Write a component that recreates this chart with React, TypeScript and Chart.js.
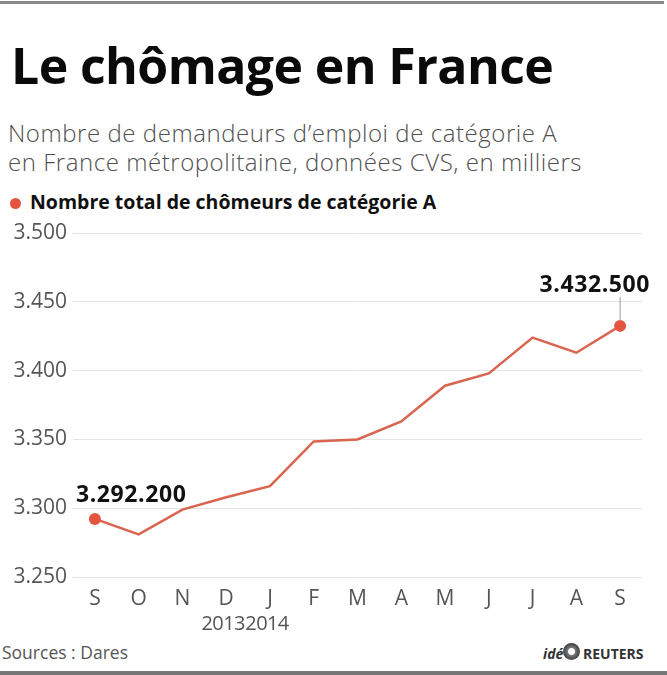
import React, { useEffect, useRef } from "react";
import { Chart, registerables } from "chart.js";

Chart.register(...registerables);

const monthLabels: string[] = ["S", "O", "N", "D", "J", "F", "M", "A", "M", "J", "J", "A", "S"];
const yearLabels: string[] = ["", "", "", "2013", "2014", "", "", "", "", "", "", "", ""];
const chomeurs: number[] = [3292.2, 3281, 3299, 3308, 3316, 3348.5, 3350, 3363, 3389, 3398, 3424, 3413, 3432.5];
const yTicks: number[] = [3250, 3300, 3350, 3400, 3450, 3500];

const FONT = "'Open Sans', 'Noto Sans', sans-serif";
const LINE_COLOR = "#d9644f";
const POINT_COLOR = "#e4553f";

function fmt(n: number): string {
  const s = Math.round(n).toString();
  return s.replace(/\B(?=(\d{3})+(?!\d))/g, ".");
}

const annotationPlugin = {
  id: "annots",
  afterDatasetsDraw(chart: any) {
    const meta = chart.getDatasetMeta(0);
    const ctx = chart.ctx as any;
    const data = chart.data.datasets[0].data as number[];
    const first = meta.data[0];
    const last = meta.data[data.length - 1];
    ctx.save();
    ctx.font = `bold 23px ${FONT}`;
    ctx.letterSpacing = "0.6px";
    ctx.fillStyle = "#111";
    ctx.textBaseline = "alphabetic";
    ctx.textAlign = "left";
    ctx.fillText(fmt(data[0] * 1000), first.x - 19, first.y - 17);
    ctx.strokeStyle = "#9a9a9a";
    ctx.lineWidth = 1;
    ctx.beginPath();
    ctx.moveTo(last.x, last.y - 29);
    ctx.lineTo(last.x, last.y - 5);
    ctx.stroke();
    ctx.textAlign = "right";
    ctx.fillText(fmt(data[data.length - 1] * 1000), last.x + 30, last.y - 34);
    ctx.restore();
  },
};

const yearPlugin = {
  id: "years",
  afterDraw(chart: any) {
    const xScale = chart.scales.x;
    const ctx = chart.ctx as any;
    ctx.save();
    ctx.font = `20px ${FONT}`;
    ctx.letterSpacing = "-0.6px";
    ctx.fillStyle = "#555";
    ctx.textAlign = "center";
    ctx.textBaseline = "alphabetic";
    yearLabels.forEach((y, i) => {
      if (!y) return;
      const x = xScale.getPixelForValue(i);
      ctx.fillText(y, x - 3, chart.chartArea.bottom + 53);
    });
    ctx.restore();
  },
};

export default function App() {
  const canvasRef = useRef<HTMLCanvasElement | null>(null);

  useEffect(() => {
    if (!canvasRef.current) return;
    const chart = new Chart(canvasRef.current, {
      type: "line",
      data: {
        labels: monthLabels,
        datasets: [
          {
            label: "Nombre total de chômeurs de catégorie A",
            data: chomeurs,
            borderColor: LINE_COLOR,
            borderWidth: 2.5,
            tension: 0,
            pointRadius: chomeurs.map((_, i) => (i === 0 || i === chomeurs.length - 1 ? 6 : 0)),
            pointBackgroundColor: POINT_COLOR,
            pointBorderWidth: 0,
            fill: false,
          },
        ],
      },
      options: {
        responsive: false,
        animation: false,
        layout: { padding: { top: 20, right: 25, left: 0, bottom: 0 } },
        plugins: {
          legend: { display: false },
          tooltip: { enabled: false },
        },
        scales: {
          x: {
            type: "category",
            offset: true,
            grid: { display: false, drawTicks: false },
            border: { display: false },
            ticks: {
              color: "#555",
              font: { family: FONT, size: 21 },
              padding: 9,
              maxRotation: 0,
              autoSkip: false,
            },
            afterFit: (scale: any) => {
              scale.height = 63;
            },
          },
          y: {
            min: 3250,
            max: 3500,
            afterBuildTicks: (scale: any) => {
              scale.ticks = yTicks.map((v) => ({ value: v }));
            },
            grid: { color: "#e4e4e4", lineWidth: 1, drawTicks: false },
            border: { display: false },
            ticks: {
              color: "#555",
              font: { family: FONT, size: 21 },
              padding: 6,
              callback: (v: any) => fmt(Number(v)),
            },
            afterFit: (scale: any) => {
              scale.width = 73;
            },
          },
        },
      },
      plugins: [annotationPlugin, yearPlugin],
    });
    return () => chart.destroy();
  }, []);

  const abs = (s: React.CSSProperties): React.CSSProperties => ({ position: "absolute", ...s });

  return (
    <div style={{ position: "absolute", left: 0, top: 0, width: 667, height: 675, background: "#fff", fontFamily: FONT, overflow: "hidden" }}>
      <div style={abs({ left: 0, top: 1, width: 664, height: 3, background: "#8a8a8a" })} />
      <div style={abs({ left: 11, top: 40, fontSize: 50, lineHeight: "50px", fontWeight: 700, color: "#0a0a0a", whiteSpace: "nowrap", letterSpacing: -0.6 })}>
        Le chômage en France
      </div>
      <div style={abs({ left: 8, top: 118, fontSize: 24, lineHeight: "29px", fontWeight: 300, color: "#505050", whiteSpace: "nowrap", letterSpacing: 0.55 })}>
        Nombre de demandeurs d’emploi de catégorie A
        <br />
        en France métropolitaine, données CVS, en milliers
      </div>
      <div style={abs({ left: 10, top: 198, width: 11, height: 11, borderRadius: "50%", background: POINT_COLOR })} />
      <div style={abs({ left: 30, top: 192, fontSize: 19.5, lineHeight: "20px", fontWeight: 700, color: "#111", whiteSpace: "nowrap" })}>
        Nombre total de chômeurs de catégorie A
      </div>
      <canvas ref={canvasRef} width={667} height={427} style={abs({ left: 0, top: 213, width: 667, height: 427 })} />
      <div style={abs({ left: 2, top: 644, fontSize: 17.5, lineHeight: "17px", color: "#555", whiteSpace: "nowrap" })}>
        Sources : Dares
      </div>
      <div style={abs({ left: 543, top: 647, fontSize: 14, lineHeight: "14px", fontWeight: 700, fontStyle: "italic", color: "#333", whiteSpace: "nowrap" })}>
        idé
      </div>
      <div style={abs({ left: 563, top: 643, width: 17, height: 17, borderRadius: "50%", background: "radial-gradient(circle, #fff 0 3px, #777 4px, #444 8px)" })} />
      <div style={abs({ left: 583, top: 647, fontSize: 14, lineHeight: "14px", fontWeight: 700, color: "#333", whiteSpace: "nowrap" })}>
        REUTERS
      </div>
      <div style={abs({ left: 0, top: 671, width: 667, height: 4, background: "#777" })} />
    </div>
  );
}
